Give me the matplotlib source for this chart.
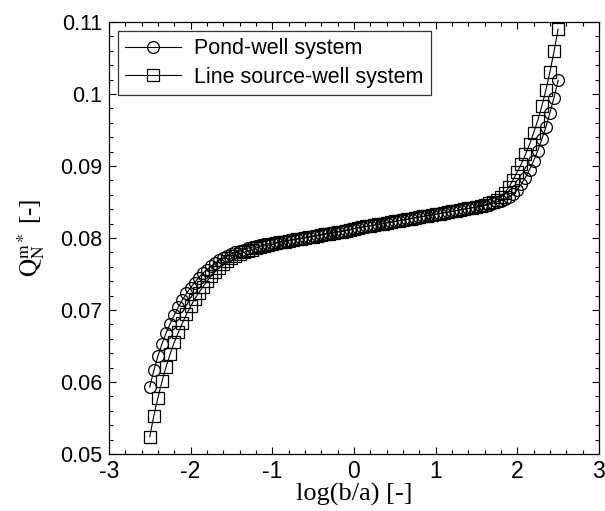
import numpy as np
import matplotlib
matplotlib.use("Agg")
import matplotlib.pyplot as plt
from matplotlib.ticker import MultipleLocator, FormatStrFormatter

plt.rcParams['font.family'] = ['Liberation Sans', 'DejaVu Sans']
plt.rcParams['axes.unicode_minus'] = False
plt.rcParams['mathtext.fontset'] = 'stix'

# log(b/a) grid, 101 points from -2.5 to 2.5
log_ba = np.linspace(-2.5, 2.5, 101)

pond_well = [
    0.0593, 0.0616, 0.0636, 0.0653, 0.0668, 0.0681, 0.0693, 0.0704, 0.0714, 0.0723,
    0.0731, 0.0738, 0.0745, 0.0751, 0.0756, 0.0761, 0.0765, 0.0769, 0.0772, 0.0775,
    0.0778, 0.0780, 0.0782, 0.0784, 0.0786, 0.0787, 0.0789, 0.0790, 0.0791, 0.0792,
    0.0793, 0.0794, 0.0795, 0.0796, 0.0797, 0.0798, 0.0799, 0.0800, 0.0801, 0.0802,
    0.0803, 0.0804, 0.0805, 0.0806, 0.0807, 0.0808, 0.0809, 0.0810, 0.0811, 0.0812,
    0.0813, 0.0814, 0.0815, 0.0816, 0.0817, 0.0818, 0.0819, 0.0820, 0.0821, 0.0822,
    0.0823, 0.0824, 0.0825, 0.0826, 0.0827, 0.0828, 0.0829, 0.0830, 0.0831, 0.0832,
    0.0833, 0.0834, 0.0835, 0.0836, 0.0837, 0.0838, 0.0839, 0.0840, 0.0841, 0.0842,
    0.0843, 0.0844, 0.0845, 0.0846, 0.0848, 0.0850, 0.0852, 0.0854, 0.0857, 0.0861,
    0.0867, 0.0875, 0.0884, 0.0895, 0.0907, 0.0921, 0.0937, 0.0954, 0.0974, 0.0995,
    0.1019,
]

line_source = [
    0.0524, 0.0553, 0.0578, 0.0601, 0.0621, 0.0639, 0.0655, 0.0669, 0.0682, 0.0694,
    0.0705, 0.0715, 0.0724, 0.0732, 0.0740, 0.0747, 0.0753, 0.0759, 0.0764, 0.0768,
    0.0772, 0.0775, 0.0778, 0.0780, 0.0782, 0.0784, 0.0786, 0.0788, 0.0789, 0.0790,
    0.0791, 0.0793, 0.0794, 0.0795, 0.0796, 0.0797, 0.0798, 0.0799, 0.0800, 0.0801,
    0.0802, 0.0803, 0.0804, 0.0805, 0.0806, 0.0807, 0.0808, 0.0809, 0.0810, 0.0811,
    0.0813, 0.0814, 0.0815, 0.0816, 0.0817, 0.0818, 0.0819, 0.0820, 0.0821, 0.0822,
    0.0823, 0.0824, 0.0825, 0.0826, 0.0827, 0.0828, 0.0829, 0.0830, 0.0831, 0.0832,
    0.0833, 0.0834, 0.0835, 0.0836, 0.0837, 0.0838, 0.0839, 0.0840, 0.0841, 0.0842,
    0.0843, 0.0845, 0.0846, 0.0848, 0.0850, 0.0853, 0.0857, 0.0863, 0.0871, 0.0881,
    0.0892, 0.0903, 0.0916, 0.0930, 0.0946, 0.0963, 0.0983, 0.1005, 0.1031, 0.1059,
    0.1090,
]

fig = plt.figure(figsize=(6.05, 5.11), dpi=100)
ax = fig.add_axes([0.180, 0.1115, 0.810, 0.8455])

ax.plot(log_ba, pond_well, '-o', color='black', lw=0.8, ms=8.5,
        mfc='none', mew=0.9, label='Pond-well system')
ax.plot(log_ba, line_source, '-s', color='black', lw=0.8, ms=8,
        mfc='none', mew=0.9, label='Line source-well system')

ax.set_xlim(-3, 3)
ax.set_ylim(0.05, 0.11)
ax.xaxis.set_major_locator(MultipleLocator(1))
ax.xaxis.set_minor_locator(MultipleLocator(0.2))
ax.yaxis.set_major_locator(MultipleLocator(0.01))
ax.yaxis.set_minor_locator(MultipleLocator(0.002))
ax.yaxis.set_major_formatter(FormatStrFormatter('%g'))
ax.xaxis.set_major_formatter(FormatStrFormatter('%g'))
ax.tick_params(which='both', direction='in', top=True, right=True, width=0.8)
ax.tick_params(axis='y', labelsize=15.5, pad=5)
ax.tick_params(axis='x', labelsize=16.5, pad=4)
ax.tick_params(which='major', length=5)
ax.tick_params(which='minor', length=3)
for s in ax.spines.values():
    s.set_linewidth(0.9)

ax.set_xlabel('log(b/a) [-]', family='Liberation Serif', fontsize=19, labelpad=0)
ax.set_ylabel(r'$\mathrm{Q}_{\mathrm{N}}^{\mathrm{m*}}$ [-]', family='Liberation Serif',
              fontsize=18, labelpad=9)

leg = ax.legend(loc='upper left', fontsize=15.5, frameon=True, fancybox=False,
                edgecolor='black', handlelength=2.6, borderpad=0.35,
                labelspacing=0.35, handletextpad=0.6, borderaxespad=0.4)
leg.get_frame().set_linewidth(0.9)

fig.savefig('out.png', dpi=100)
